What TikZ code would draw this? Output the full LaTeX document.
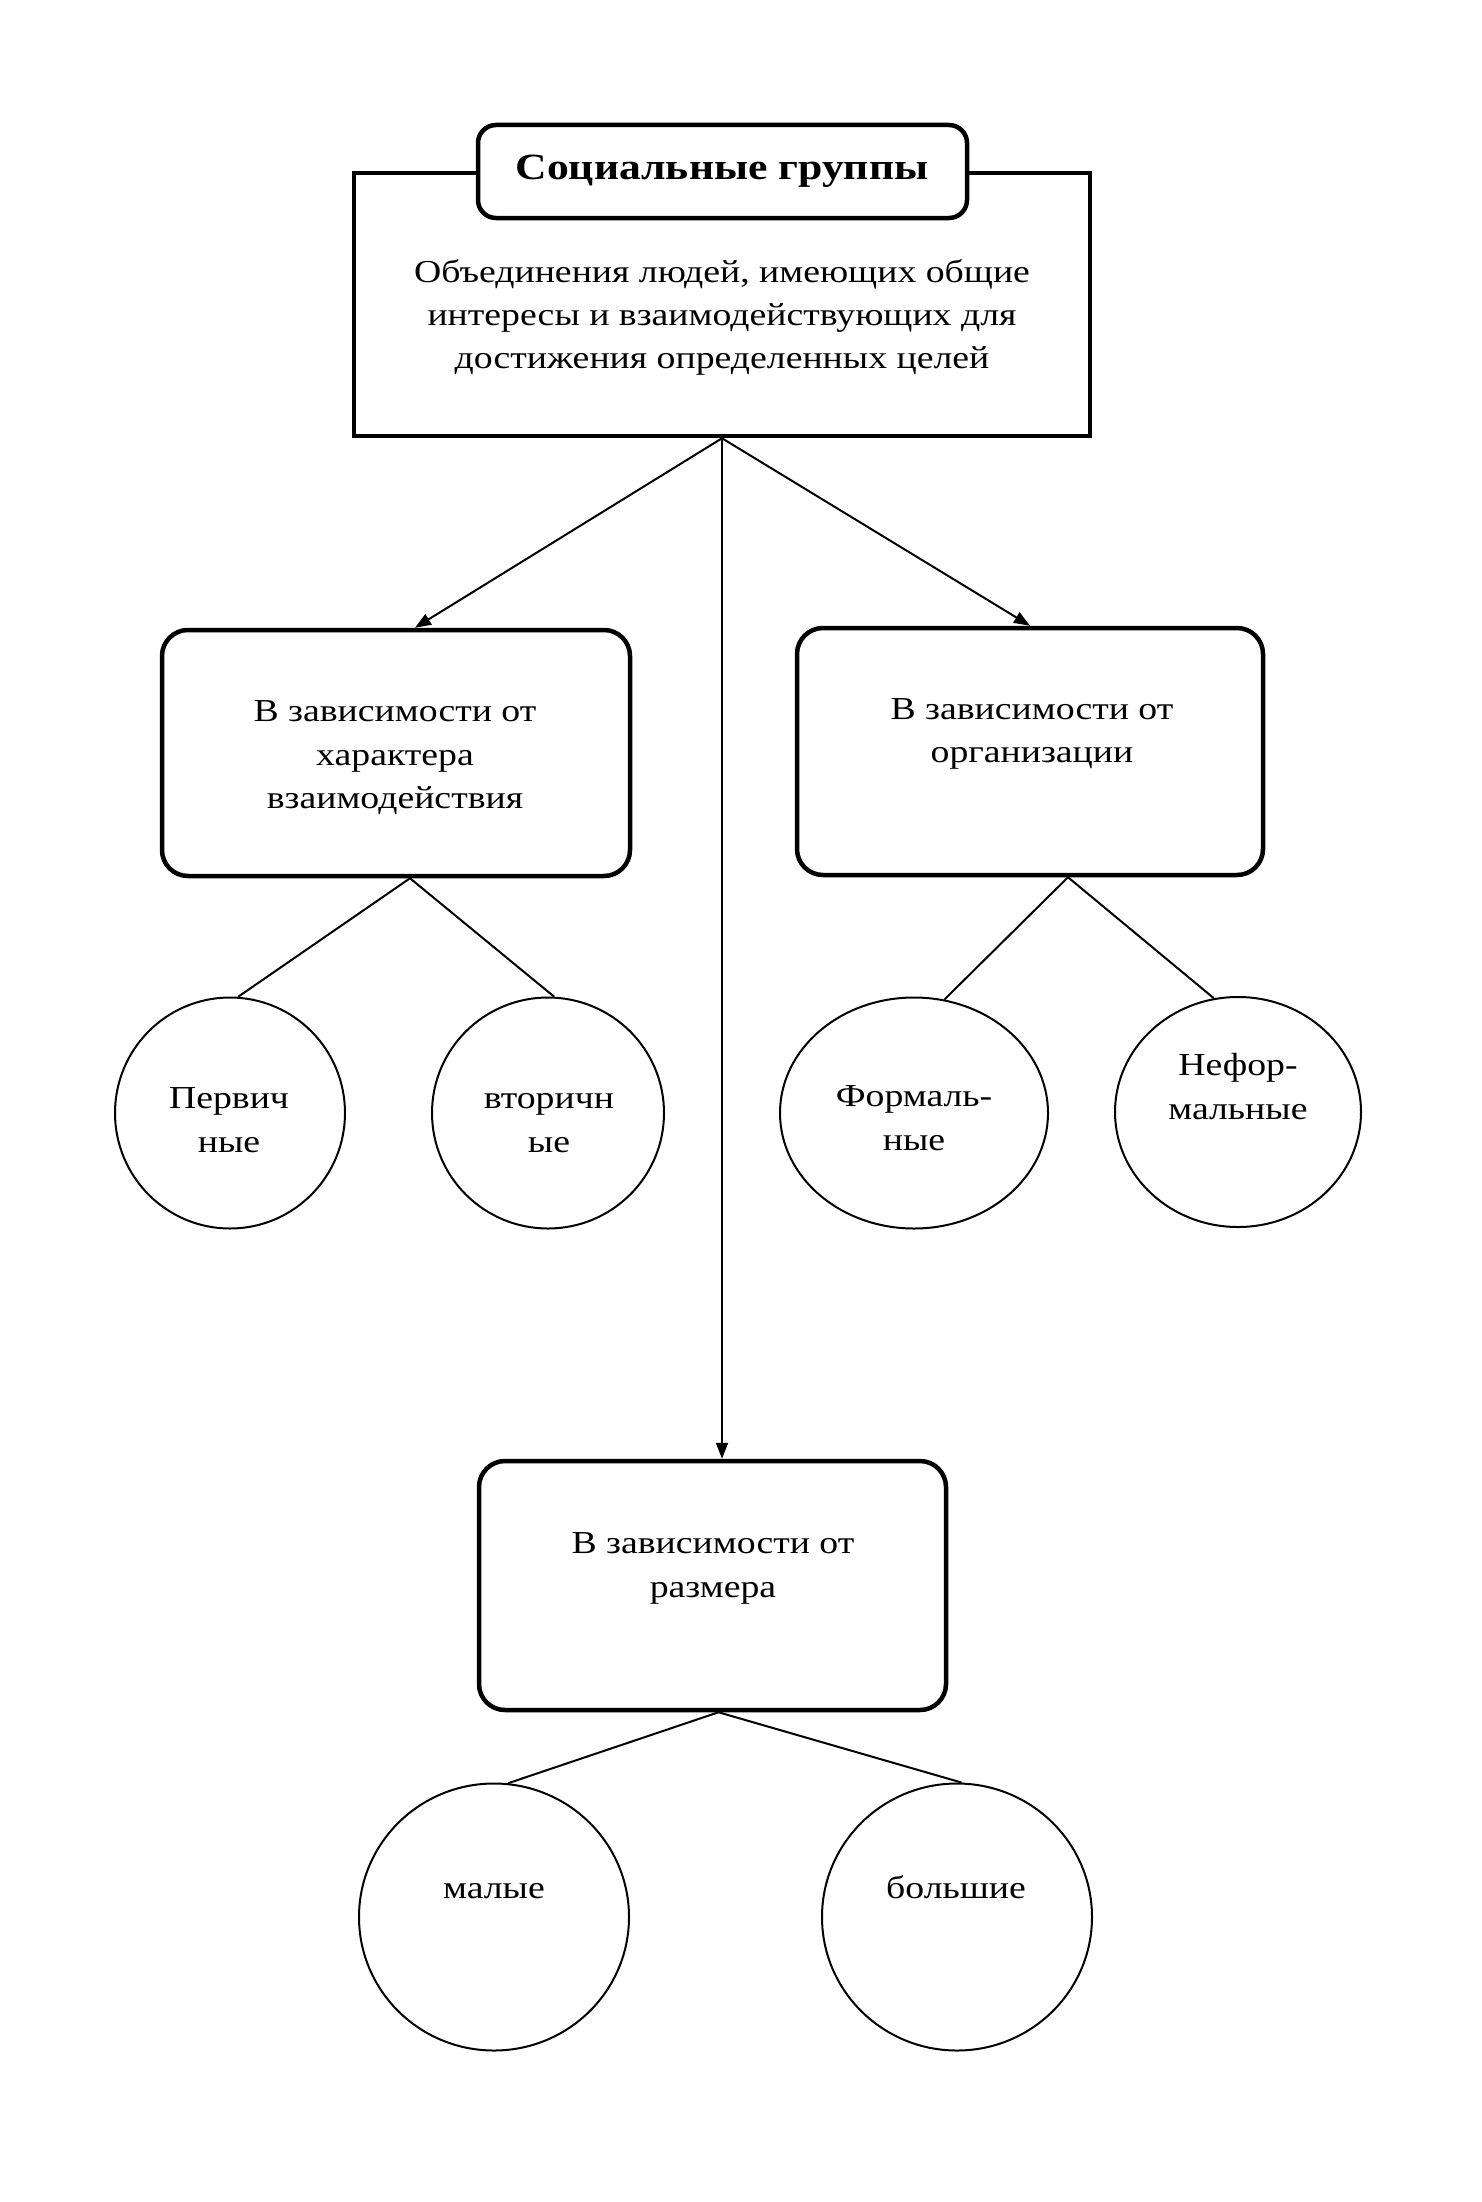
\documentclass[tikz,border=0pt]{standalone}
\usepackage{fontspec}
\setmainfont{Liberation Serif}[FakeStretch=1.18]
\usetikzlibrary{arrows.meta,calc,shapes.geometric}
\begin{document}
\begin{tikzpicture}[x=1pt,y=-1pt,
  box/.style={draw, line width=4.5pt, rounded corners=26pt, inner sep=0pt},
  oval/.style={draw, ellipse, line width=2pt, inner sep=0pt},
  txt/.style={anchor=base, inner sep=0pt, font=\fontsize{32pt}{44pt}\selectfont},
  ttl/.style={anchor=base, inner sep=0pt, font=\fontsize{37pt}{46pt}\selectfont\bfseries},
  conn/.style={line width=2pt},
  arr/.style={line width=2pt, -{Triangle[length=16pt,width=12pt]}}]
\useasboundingbox (0,0) rectangle (1481,2202);
\fill[white] (0,0) rectangle (1481,2202);

% main box
\node[draw, line width=4.5pt, minimum width=736pt, minimum height=263pt, inner sep=0pt] (main) at (722,304.5) {};
\node[box, rounded corners=18pt, fill=white, minimum width=489pt, minimum height=93pt] (title) at (722.5,171.5) {};
\node[ttl] (tt) at (722,180) {Социальные группы};
\node[txt] (m1) at (722,282) {Объединения людей, имеющих общие};
\node[txt] (m2) at (722,325) {интересы и взаимодействующих для};
\node[txt] (m3) at (722,368) {достижения определенных целей};

% second level boxes
\node[box, minimum width=468pt, minimum height=246pt] (lb) at (396,753) {};
\node[txt] (l1) at (395,721) {В зависимости от};
\node[txt] (l2) at (395,765) {характера};
\node[txt] (l3) at (395,808) {взаимодействия};

\node[box, minimum width=466pt, minimum height=247pt] (rb) at (1030,751.5) {};
\node[txt] (r1) at (1032,719) {В зависимости от};
\node[txt] (r2) at (1032,762) {организации};

\node[box, minimum width=467pt, minimum height=249pt] (bb) at (712.5,1585.5) {};
\node[txt] (b1) at (713,1553) {В зависимости от};
\node[txt] (b2) at (713,1597) {размера};

% ovals
\node[oval, minimum width=230pt, minimum height=231pt] (c1) at (230,1113) {};
\node[txt] (c1a) at (229,1108) {Первич};
\node[txt] (c1b) at (229,1152) {ные};
\node[oval, minimum width=232pt, minimum height=231pt] (c2) at (548,1113) {};
\node[txt] (c2a) at (549,1108) {вторичн};
\node[txt] (c2b) at (549,1152) {ые};
\node[oval, minimum width=268pt, minimum height=231pt] (c3) at (914,1113) {};
\node[txt] (c3a) at (914,1106) {Формаль-};
\node[txt] (c3b) at (914,1150) {ные};
\node[oval, minimum width=246pt, minimum height=230pt] (c4) at (1238,1112) {};
\node[txt] (c4a) at (1238,1075) {Нефор-};
\node[txt] (c4b) at (1238,1119) {мальные};
\node[oval, minimum width=270pt, minimum height=267pt] (c5) at (494,1917) {};
\node[txt] (c5a) at (494,1898) {малые};
\node[oval, minimum width=270pt, minimum height=267pt] (c6) at (957,1917) {};
\node[txt] (c6a) at (956,1898) {большие};

% arrows from main box
\draw[arr] (main.south) -- ($(lb.north)+(19,0)$);
\draw[arr] (main.south) -- (rb.north);
\draw[arr] (main.south) -- (main.south |- bb.north);

% connectors to ovals
\draw[conn] ($(lb.south)+(14,0)$) -- (c1.86);
\draw[conn] ($(lb.south)+(14,0)$) -- (c2.87);
\draw[conn] ($(rb.south)+(38,0)$) -- (c3.75);
\draw[conn] ($(rb.south)+(38,0)$) -- (c4.102);
\draw[conn] ($(bb.south)+(6,0)$) -- (c5.84);
\draw[conn] ($(bb.south)+(6,0)$) -- (c6.88);
\end{tikzpicture}
\end{document}
